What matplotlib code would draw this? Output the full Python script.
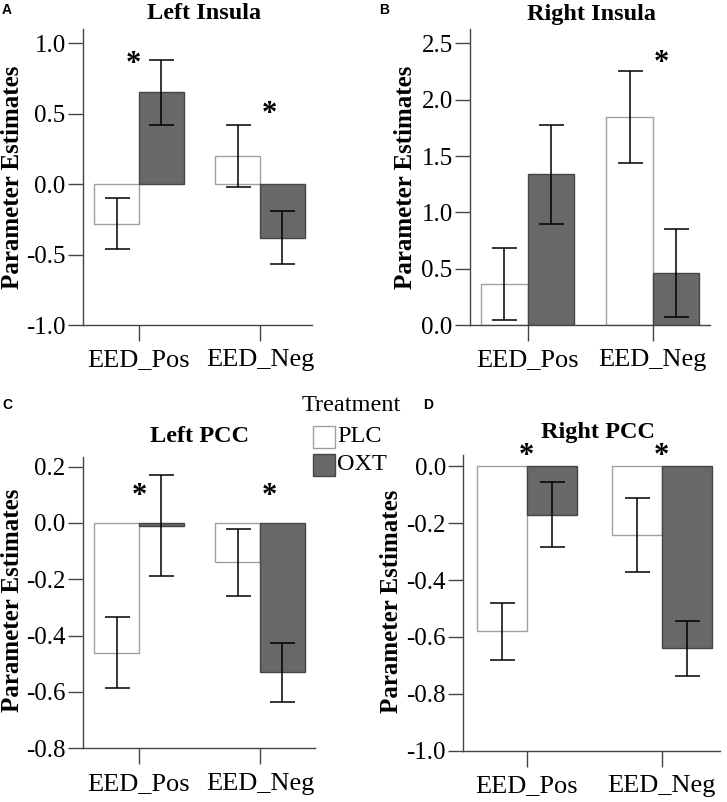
#!/usr/bin/env python3
"""
Parameter estimates (PLC vs OXT) for four ROIs, 2x2 panels.
"""

import matplotlib
matplotlib.use("Agg")
import matplotlib.pyplot as plt
from matplotlib.patches import Rectangle


CONDITIONS = ["EED_Pos", "EED_Neg"]
GROUPS = ["PLC", "OXT"]
TITLES = ["Left Insula", "Right Insula", "Left PCC", "Right PCC"]
PANEL_LETTERS = ["A", "B", "C", "D"]

# means per panel: [EED_Pos, EED_Neg]
PLC_MEAN = [[-0.28, 0.20], [0.36, 1.85], [-0.46, -0.14], [-0.58, -0.24]]
OXT_MEAN = [[0.65, -0.38], [1.34, 0.46], [-0.01, -0.53], [-0.17, -0.64]]
PLC_ERR = [[0.18, 0.22], [0.32, 0.41], [0.127, 0.12], [0.10, 0.13]]
OXT_ERR = [[0.23, 0.19], [0.44, 0.39], [0.18, 0.104], [0.115, 0.097]]

# significance stars (x in category units, y in data units)
STARS = [
    [(-0.05, 0.90), (1.08, 0.54)],
    [(1.07, 2.38)],
    [(0.0, 0.12), (1.08, 0.12)],
    [(0.0, 0.059), (1.0, 0.059)],
]

YLIMS = [(-1.0, 1.1), (0.0, 2.626), (-0.8, 0.235), (-1.0, 0.04)]
YTICKS = [
    [-1.0, -0.5, 0.0, 0.5, 1.0],
    [0.0, 0.5, 1.0, 1.5, 2.0, 2.5],
    [-0.8, -0.6, -0.4, -0.2, 0.0, 0.2],
    [-1.0, -0.8, -0.6, -0.4, -0.2, 0.0],
]
XLIMS = [(-0.463, 1.43), (-0.46, 1.458), (-0.463, 1.455), (-0.47, 1.432)]

W, H = 727, 802
# axes boxes in pixels: left, top, right, bottom
BOXES = [(83, 29, 312, 325), (470, 29.3, 710, 325),
         (83, 456.7, 315, 748.3), (463.3, 455, 720, 750.7)]
TITLE_X = [0.528, 0.507, 0.504, 0.523]
TITLE_PAD = [7, 7, 10.8, 12]
YLABEL_POS = [(-0.31, 0.5), (-0.27, 0.5), (-0.306, 0.508), (-0.278, 0.504)]
LETTER_POS = [(2, 3), (379, 3), (2, 398), (423, 398)]

SERIF = "Liberation Serif"
AXIS_COLOR = "#444444"
PLC_FACE, PLC_EDGE = "white", "#a0a0a0"
OXT_FACE, OXT_EDGE = "#686868", "#454545"
BAR_W = 0.37

plt.rcParams["font.family"] = [SERIF, "DejaVu Serif"]
plt.rcParams["xtick.labelsize"] = 19
plt.rcParams["ytick.labelsize"] = 18


def draw_panel(fig, i):
    l, t, r, b = BOXES[i]
    ax = fig.add_axes([l / W, 1 - b / H, (r - l) / W, (b - t) / H])
    x = range(len(CONDITIONS))
    xp = [v - BAR_W / 2 for v in x]
    xo = [v + BAR_W / 2 for v in x]
    ebar = dict(ecolor="black", elinewidth=1.1, capsize=9, capthick=1.1)
    ax.bar(xp, PLC_MEAN[i], BAR_W, yerr=PLC_ERR[i], color=PLC_FACE,
           edgecolor=PLC_EDGE, linewidth=1.0, error_kw=ebar, zorder=2)
    ax.bar(xo, OXT_MEAN[i], BAR_W, yerr=OXT_ERR[i], color=OXT_FACE,
           edgecolor=OXT_EDGE, linewidth=1.0, error_kw=ebar, zorder=2)

    # '*' sits high in its box, so nudge it down onto the read position
    for sx, sy in STARS[i]:
        ax.annotate("*", (sx, sy), xytext=(0, -5), textcoords="offset points",
                    ha="center", va="center", fontsize=22,
                    fontweight="bold", annotation_clip=False)

    ax.set_xlim(*XLIMS[i])
    ax.set_ylim(*YLIMS[i])
    ax.set_yticks(YTICKS[i])
    ax.set_yticklabels([f"{v:.1f}" for v in YTICKS[i]])
    ax.set_xticks(list(x))
    ax.set_xticklabels(CONDITIONS)
    ax.tick_params(axis="y", length=11, width=1, color=AXIS_COLOR, pad=1.5)
    ax.tick_params(axis="x", length=11.5, width=1, color=AXIS_COLOR, pad=6)
    ax.spines["top"].set_visible(False)
    ax.spines["right"].set_visible(False)
    for s in ("left", "bottom"):
        ax.spines[s].set_color(AXIS_COLOR)
        ax.spines[s].set_linewidth(1)

    ax.set_title(TITLES[i], x=TITLE_X[i], pad=TITLE_PAD[i],
                 fontsize=17.5, fontweight="bold")
    ax.set_ylabel("Parameter Estimates", fontsize=18,
                  fontweight="bold", va="center")
    ax.yaxis.set_label_coords(*YLABEL_POS[i])

    lx, ly = LETTER_POS[i]
    fig.text(lx / W, 1 - ly / H, PANEL_LETTERS[i], ha="left", va="top",
             family="Liberation Sans", fontweight="bold", fontsize=10)
    return ax


def draw_legend(fig):
    # hand-built legend between the two lower panels
    fig.text(302 / W, 1 - 405.5 / H, "Treatment", ha="left", va="center",
             fontsize=17.5)
    styles = [(PLC_FACE, PLC_EDGE), (OXT_FACE, OXT_EDGE)]
    for k, (name, (fc, ec)) in enumerate(zip(GROUPS, styles)):
        top = 426 + 28 * k
        fig.add_artist(Rectangle((313 / W, 1 - (top + 22) / H), 22 / W,
                                 22 / H, transform=fig.transFigure,
                                 facecolor=fc, edgecolor=ec, linewidth=1.0))
        fig.text(337 / W, 1 - (top + 11) / H, name, ha="left", va="center",
                 fontsize=17.5)


def main():
    fig = plt.figure(figsize=(W / 100, H / 100), dpi=100)
    for i in range(4):
        draw_panel(fig, i)
    draw_legend(fig)

    fig.savefig("out.png", dpi=100)
    plt.close(fig)


if __name__ == "__main__":
    main()
